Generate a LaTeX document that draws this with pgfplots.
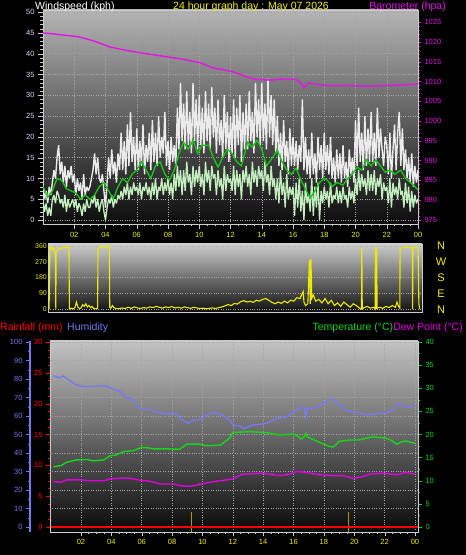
\documentclass[border=0pt]{standalone}
\usepackage{pgfplots}
\pgfplotsset{compat=1.18}
\usepackage{pgfplotstable}
\usepackage{fontspec}
\setmainfont{Liberation Sans}

\definecolor{cGust}{RGB}{235,235,235}
\definecolor{cSpd}{RGB}{195,238,190}
\definecolor{cAvg}{RGB}{20,200,20}
\definecolor{cBaro}{RGB}{230,20,230}
\definecolor{cTtl}{RGB}{240,240,0}
\definecolor{cDir}{RGB}{235,235,0}
\definecolor{cHum}{RGB}{120,120,240}
\definecolor{cRain}{RGB}{255,0,0}
\definecolor{cTemp}{RGB}{20,215,20}
\definecolor{cDew}{RGB}{225,0,225}
\definecolor{cWlbl}{RGB}{210,220,255}
\definecolor{cFrame}{RGB}{205,205,205}
\definecolor{cGrid}{RGB}{165,165,165}
\definecolor{cRbar}{RGB}{175,150,0}
\definecolor{bgTopA}{RGB}{180,180,180}
\definecolor{bgBotA}{RGB}{12,12,12}
\definecolor{bgTopB}{RGB}{205,205,205}
\definecolor{bgBotB}{RGB}{15,15,15}
\definecolor{bgTopC}{RGB}{195,195,195}
\definecolor{bgBotC}{RGB}{8,8,8}

\pgfplotstableread{
h g s
0.0 8 5
0.1 5 2
0.2 7 4
0.3 4 1
0.4 8 3
0.5 6 1
0.6 9 5
0.7 12 6
0.8 10 4
0.9 15 7
1.0 18 6
1.1 11 4
1.2 14 5
1.3 9 3
1.4 13 6
1.5 8 2
1.6 12 5
1.7 10 3
1.8 13 4
1.9 9 5
2.0 11 3
2.1 6 5
2.2 10 2
2.3 7 4
2.4 9 3
2.5 5 1
2.6 11 4
2.7 6 2
2.8 8 5
2.9 7 3
3.0 8 3
3.1 10 5
3.2 12 4
3.3 16 6
3.4 11 3
3.5 15 5
3.6 10 2
3.7 9 4
3.8 11 5
3.9 7 2
4.0 3 0
4.1 9 3
4.2 15 5
4.3 10 4
4.4 17 6
4.5 11 3
4.6 14 5
4.7 9 4
4.8 16 6
4.9 12 5
5.0 21 7
5.1 12 5
5.2 19 8
5.3 11 6
5.4 23 9
5.5 13 5
5.6 26 8
5.7 14 6
5.8 20 9
5.9 12 7
6.0 22 8
6.1 12 6
6.2 19 9
6.3 13 5
6.4 23 8
6.5 11 7
6.6 18 9
6.7 14 6
6.8 21 8
6.9 12 5
7.0 24 9
7.1 14 6
7.2 21 10
7.3 13 5
7.4 25 8
7.5 15 7
7.6 20 10
7.7 16 6
7.8 26 9
7.9 13 7
8.0 19 10
8.1 12 6
8.2 20 9
8.3 14 5
8.4 18 11
8.5 13 7
8.6 27 13
8.7 17 8
8.8 33 12
8.9 19 6
9.0 28 12
9.1 17 7
9.2 31 14
9.3 18 9
9.4 26 11
9.5 16 6
9.6 33 13
9.7 19 8
9.8 29 12
9.9 17 9
10.0 30 13
10.1 18 8
10.2 27 11
10.3 16 6
10.4 31 14
10.5 19 9
10.6 28 12
10.7 17 7
10.8 32 13
10.9 20 10
11.0 27 11
11.1 16 6
11.2 29 12
11.3 18 8
11.4 24 10
11.5 15 5
11.6 30 13
11.7 17 7
11.8 26 11
11.9 14 9
12.0 25 10
12.1 16 7
12.2 29 13
12.3 15 6
12.4 27 12
12.5 18 8
12.6 30 11
12.7 14 5
12.8 26 12
12.9 17 9
13.0 28 13
13.1 17 8
13.2 31 11
13.3 19 6
13.4 26 14
13.5 16 9
13.6 33 12
13.7 20 8
13.8 29 13
13.9 18 10
14.0 33 12
14.1 19 7
14.2 28 14
14.3 17 9
14.4 34 11
14.5 20 6
14.6 30 13
14.7 18 8
14.8 29 10
14.9 16 5
15.0 25 10
15.1 13 4
15.2 21 12
15.3 12 6
15.4 24 9
15.5 14 3
15.6 19 11
15.7 11 5
15.8 22 8
15.9 13 6
16.0 20 8
16.1 13 1
16.2 19 9
16.3 12 3
16.4 18 10
16.5 14 2
16.6 29 7
16.7 12 0
16.8 20 9
16.9 11 4
17.0 17 6
17.1 10 2
17.2 21 10
17.3 11 1
17.4 16 8
17.5 9 3
17.6 20 9
17.7 12 0
17.8 18 7
17.9 10 4
18.0 21 8
18.1 12 5
18.2 18 7
18.3 11 3
18.4 20 9
18.5 10 4
18.6 15 6
18.7 9 5
18.8 17 8
18.9 10 4
19.0 16 7
19.1 9 4
19.2 18 8
19.3 10 5
19.4 14 6
19.5 8 3
19.6 17 8
19.7 11 5
19.8 15 7
19.9 9 4
20.0 24 10
20.1 13 6
20.2 27 12
20.3 14 7
20.4 21 11
20.5 12 8
20.6 25 10
20.7 13 6
20.8 22 12
20.9 14 7
21.0 26 11
21.1 14 7
21.2 21 12
21.3 13 6
21.4 27 10
21.5 15 8
21.6 22 11
21.7 17 5
21.8 13 9
21.9 20 7
22.0 18 8
22.1 11 4
22.2 21 10
22.3 10 3
22.4 17 9
22.5 23 6
22.6 12 8
22.7 21 5
22.8 26 10
22.9 13 6
23.0 22 7
23.1 12 3
23.2 17 9
23.3 10 4
23.4 15 8
23.5 9 2
23.6 16 7
23.7 8 3
23.8 13 6
23.9 9 4
24.0 12 5
}\windtab

\pgfplotsset{
  cstyle/.style={
    scale only axis, anchor=south west,
    tick label style={font=\fontsize{7.5}{8}\selectfont},
    /pgf/number format/assume math mode=true,
    /pgf/number format/1000 sep={},
    axis line style={cFrame, line width=0.8pt},
    tick align=outside,
    major grid style={cGrid, dotted, line width=0.4pt},
  }
}

\begin{document}
\begin{tikzpicture}[x=1pt,y=1pt]
\fill[black] (0,0) rectangle (466,555);

% ---------- top panel: wind ----------
\begin{axis}[cstyle, at={(43pt,331pt)}, width=375pt, height=214pt,
  xmin=0, xmax=24, ymin=-0.96, ymax=50.5,
  axis background/.style={top color=bgTopA, bottom color=bgBotA},
  xtick={2,4,...,24}, xticklabels={02,04,06,08,10,12,14,16,18,20,22,00},
  minor x tick num=3,
  ytick={0,5,...,50}, minor y tick num=4,
  xtick pos=bottom, ytick pos=left,
  major tick length=5pt, minor tick length=2.5pt,
  tick style={cFrame},
  xticklabel style={text=cTtl},
  yticklabel style={text=cWlbl},
  grid=major,
]
\addplot[cGust, line width=1.4pt, line join=bevel] table[x=h, y=g] {\windtab};
\addplot[cSpd, line width=1.3pt, line join=bevel] table[x=h, y=s] {\windtab};
\addplot[cAvg, line width=1.3pt] coordinates {
(0,8)(0.3,5.5)(0.6,7)(0.9,10)(1.2,9.5)(1.5,7.5)(1.8,7)(2.1,6.5)(2.4,5)(2.7,6)(3.0,5)(3.3,6)(3.6,8)(3.9,9)(4.2,7)(4.5,5)(4.8,8)(5.1,10)(5.4,9)(5.7,11)(6.0,12)(6.3,14)(6.6,12)(6.9,10)(7.2,13)(7.5,14)(7.8,11)(8.1,9.6)(8.4,12)(8.7,16)(9.0,18.7)(9.3,17)(9.6,19.2)(9.9,16)(10.2,18)(10.6,18)(10.9,15)(11.2,12.7)(11.5,15)(11.8,17)(12.1,16)(12.4,14)(12.7,13)(13.1,18.7)(13.4,17.5)(13.7,19.2)(14.0,17)(14.3,13)(14.6,14.5)(15.0,16.8)(15.3,14)(15.6,12)(15.9,11)(16.2,12.5)(16.5,9.6)(16.8,7.5)(17.1,5.3)(17.4,7)(17.7,9)(18.0,10)(18.2,9.6)(18.5,8)(18.8,9)(19.2,8.4)(19.5,10)(19.8,11)(20.1,12.7)(20.4,12)(20.7,14.4)(21.0,13)(21.3,14.4)(21.6,13)(21.9,11.5)(22.2,12)(22.5,11)(22.9,12)(23.2,10)(23.5,9)(23.7,8.4)(24.0,7.2)};
\end{axis}

% ---------- top panel: barometer ----------
\begin{axis}[cstyle, at={(43pt,331pt)}, width=375pt, height=214pt,
  xmin=0, xmax=24, ymin=973.9, ymax=1028.1,
  hide x axis, axis y line*=right,
  ytick={975,980,...,1025}, minor y tick num=4,
  major tick length=3pt, minor tick length=1.5pt,
  tick style={cBaro}, yticklabel style={text=cBaro},
]
\addplot[cBaro, line width=1.4pt] coordinates {
(0,1022.3)(1,1021.9)(2.3,1021.3)(3.3,1020.2)(4.3,1018.7)(5.3,1017.9)(6.3,1017.2)(7,1016.8)(8,1016.2)(9,1015.6)(10.1,1014.7)(10.9,1013.4)(11.5,1013.0)(12.2,1012.4)(12.8,1011.5)(13.5,1010.6)(14.2,1010.4)(14.8,1010.4)(15.2,1010.6)(15.6,1010.5)(16,1010.6)(16.3,1010.3)(16.5,1009.6)(16.7,1008.4)(16.85,1009.0)(17,1009.6)(17.5,1009.3)(18.4,1008.9)(19.5,1009.0)(20.5,1008.8)(21.2,1008.8)(22,1009.0)(23,1009.1)(24,1009.4)};
\end{axis}

% ---------- middle panel: wind direction ----------
\begin{axis}[cstyle, at={(48pt,243pt)}, width=374pt, height=68pt,
  xmin=0.38, xmax=24.3, ymin=-17, ymax=371,
  axis background/.style={top color=bgTopB, bottom color=bgBotB},
  xtick=\empty, ytick={0,90,180,270,360}, ytick pos=left,
  major tick length=0pt,
  yticklabel style={text=cDir, font=\fontsize{7}{8}\selectfont, inner sep=1pt},
  ymajorgrids,
]
\addplot[cDir, line width=1.1pt] coordinates {
(0.45,0)(0.5,350)(0.55,345)(0.6,355)(0.65,340)(0.7,350)(0.8,335)(0.85,310)(0.88,0)(0.9,320)(0.95,335)(1.05,340)(1.15,348)(1.25,345)(1.35,352)(1.45,350)(1.55,355)(1.65,352)(1.72,355)(1.75,0)(1.85,5)(2.0,2)(2.1,8)(2.2,40)(2.3,10)(2.4,3)(2.5,6)(2.6,25)(2.7,15)(2.8,30)(2.9,12)(3.0,20)(3.1,8)(3.2,15)(3.3,3)(3.45,2)(3.55,5)(3.58,345)(3.7,355)(3.8,352)(3.9,358)(4.0,355)(4.1,360)(4.2,358)(4.3,360)(4.33,10)(4.4,5)(4.5,20)(4.6,8)(4.7,3)(4.9,2)(5.1,6)(5.3,3)(5.5,10)(5.7,4)(5.9,12)(6.1,6)(6.3,3)(6.5,8)(6.7,5)(6.9,12)(7.1,8)(7.3,15)(7.5,10)(7.7,5)(7.9,12)(8.1,8)(8.3,14)(8.5,6)(8.7,10)(8.9,5)(9.1,12)(9.3,8)(9.5,4)(9.7,10)(9.9,6)(10.1,3)(10.3,5)(10.5,2)(10.7,4)(10.9,6)(11.1,3)(11.3,8)(11.5,12)(11.7,18)(11.9,25)(12.1,20)(12.3,32)(12.5,28)(12.7,42)(12.9,48)(13.1,40)(13.3,44)(13.5,38)(13.7,50)(13.9,45)(14.1,55)(14.3,60)(14.5,50)(14.7,38)(14.9,30)(15.1,40)(15.3,32)(15.5,45)(15.7,35)(15.9,50)(16.1,45)(16.3,65)(16.5,60)(16.6,80)(16.7,100)(16.75,40)(16.85,20)(17.0,30)(17.1,280)(17.15,30)(17.2,285)(17.25,60)(17.35,80)(17.5,45)(17.7,55)(17.9,35)(18.1,60)(18.3,30)(18.5,50)(18.7,20)(18.9,35)(19.1,15)(19.3,40)(19.5,25)(19.7,10)(19.9,30)(20.1,20)(20.3,5)(20.43,0)(20.45,350)(20.48,0)(20.6,8)(20.8,15)(21.0,5)(21.2,10)(21.3,0)(21.32,350)(21.36,0)(21.4,355)(21.43,5)(21.6,10)(21.8,4)(22.0,15)(22.2,8)(22.4,20)(22.6,10)(22.7,40)(22.8,15)(22.88,5)(22.9,345)(23.1,350)(23.3,355)(23.5,350)(23.68,352)(23.7,0)(23.72,350)(23.9,355)(24.05,350)(24.1,30)(24.15,0)};
\end{axis}

% ---------- bottom panel: rain (frame, grid, x axis) ----------
\begin{axis}[cstyle, at={(50pt,23pt)}, width=368pt, height=191pt,
  xmin=-0.04, xmax=24.2, ymin=-0.81, ymax=30.16,
  axis background/.style={top color=bgTopC, bottom color=bgBotC},
  xtick={2,4,...,24}, xticklabels={02,04,06,08,10,12,14,16,18,20,22,00},
  minor x tick num=3,
  ytick={0,5,...,30}, minor y tick num=3,
  xtick pos=bottom, ytick pos=left,
  major tick length=4pt, minor tick length=2pt,
  xtick style={cFrame}, ytick style={cRain},
  xticklabel style={text=cTtl}, yticklabel style={text=cRain},
  xmajorgrids,
  extra y ticks={3,6,...,30}, extra y tick labels={},
  extra y tick style={ymajorgrids=true, major tick length=0pt},
]
\addplot[cRbar, line width=1.3pt] coordinates {(9.29,-0.81)(9.29,2.5)};
\addplot[cRbar, line width=1.3pt] coordinates {(19.64,-0.81)(19.64,2.5)};
\addplot[cRain, line width=1.8pt] coordinates {(0,0)(24.2,0)};
\end{axis}

% ---------- bottom panel: humidity data ----------
\begin{axis}[cstyle, at={(50pt,23pt)}, width=368pt, height=191pt,
  xmin=-0.04, xmax=24.2, ymin=-2.7, ymax=100.5, hide axis]
\addplot[cHum, line width=1.4pt] coordinates {
(0.18,81.8)(0.4,81)(0.6,80.7)(0.84,81.6)(1.0,80.5)(1.27,79.1)(1.5,77.8)(1.7,76.8)(2.15,75.9)(2.8,75.9)(3.3,76.2)(3.7,76.2)(4.1,74.4)(4.6,73.2)(4.9,70.1)(5.3,69.6)(5.6,66.5)(5.9,63.6)(6.5,63.6)(6.9,62.3)(7.6,61.1)(8.3,61.1)(8.6,58.2)(9.07,56.0)(9.4,57.8)(9.8,57.8)(10.3,60.5)(10.7,61.8)(11.0,61.5)(11.3,60.5)(11.8,57.8)(12.0,55.1)(12.5,54.6)(12.7,53)(13.0,54)(13.3,55.1)(13.8,55.5)(14.2,56)(14.6,57.5)(14.9,58.7)(15.6,59.6)(16.0,62)(16.4,64.2)(16.7,65)(16.8,59.6)(16.9,64)(17.3,64.2)(17.8,66)(18.1,67.5)(18.4,69)(18.6,69)(19.0,66)(19.5,62.7)(20.3,61.8)(20.8,60.5)(21.2,61.1)(21.9,61.4)(22.5,62.7)(22.9,66.4)(23.1,66.4)(23.4,64.6)(24.0,65.5)};
\end{axis}

% ---------- bottom panel: temperature / dew point ----------
\begin{axis}[cstyle, at={(50pt,23pt)}, width=368pt, height=191pt,
  xmin=-0.04, xmax=24.2, ymin=-1.08, ymax=40.2,
  hide x axis, axis y line*=right,
  ytick={0,5,...,40}, minor y tick num=1,
  major tick length=4pt, minor tick length=2pt,
  tick style={cTemp}, yticklabel style={text=cTemp},
]
\addplot[cTemp, line width=1.4pt] coordinates {
(0.18,13.0)(0.7,13.3)(1.06,14.0)(1.7,14.5)(2.4,14.6)(2.8,14.3)(3.5,14.5)(3.9,15.35)(4.35,15.6)(4.8,16.3)(5.45,16.5)(6.0,17.2)(6.4,17.1)(6.8,16.9)(7.6,16.9)(8.5,16.8)(8.8,17.5)(8.96,17.9)(9.8,17.9)(10.2,17.6)(10.5,17.6)(11.2,17.7)(11.5,18.5)(11.8,19.2)(12.0,20.4)(13.1,20.6)(14.2,20.4)(15.1,19.9)(16.0,20.1)(16.3,19.6)(16.5,19.0)(16.7,19.5)(16.8,20.3)(16.9,19.5)(17.1,19.2)(17.7,18.3)(18.4,17.4)(18.6,17.3)(18.8,17.8)(19.0,18.5)(19.7,18.8)(20.3,18.8)(21.2,19.5)(22.1,19.2)(22.5,18.6)(22.8,17.9)(23.1,18.4)(23.4,18.6)(24.0,18.1)};
\addplot[cDew, line width=1.4pt] coordinates {
(0.18,9.8)(0.7,9.7)(1.06,10.2)(1.9,10.2)(2.6,10.0)(3.5,10.0)(3.9,10.4)(5.0,10.6)(5.45,10.4)(6.0,10.0)(6.3,10.0)(6.8,9.7)(7.2,9.3)(8.1,9.3)(8.6,8.9)(9.2,8.8)(9.8,9.2)(10.7,9.8)(11.4,10.1)(12.0,10.4)(12.6,11.4)(13.3,11.5)(13.9,11.6)(14.3,11.5)(15.1,11.1)(15.7,11.4)(16.2,12.0)(16.8,11.8)(17.5,11.4)(18.6,11.1)(19.3,11.1)(19.9,10.5)(20.6,10.9)(21.1,11.5)(21.9,11.6)(22.8,11.3)(23.4,11.8)(24.0,11.4)};
\end{axis}

% ---------- humidity scale (offset left) ----------
\begin{axis}[cstyle, at={(30pt,23pt)}, width=1pt, height=191pt,
  xmin=0, xmax=1, ymin=-2.7, ymax=100.5,
  hide x axis, axis y line*=left,
  ytick={0,10,...,100}, minor y tick num=1,
  major tick length=4pt, minor tick length=2pt,
  tick style={cHum}, yticklabel style={text=cHum},
  y axis line style={cHum, line width=2pt},
]
\end{axis}

% ---------- titles ----------
\begin{scope}[every node/.style={inner sep=0pt, font=\fontsize{10.5}{12}\selectfont}]
\node[anchor=base west, text=white] at (35,545.7) {Windspeed (kph)};
\node[anchor=base, text=cTtl] at (251,545.7) {24 hour graph day : May 07 2026};
\node[anchor=base east, text=cBaro] at (446,545.7) {Barometer (hpa)};
\node[anchor=base west, text=cRain] at (0,224.3) {Rainfall (mm)};
\node[anchor=base west, text=cHum] at (67,224.3) {Humidity};
\node[anchor=base east] at (463,224.3) {\textcolor{cTemp}{Temperature (°C)}\textcolor{cDew}{Dew Point (°C)}};
\node[anchor=center, text=cTtl, font=\fontsize{11}{12}\selectfont] at (441,309) {N};
\node[anchor=center, text=cTtl, font=\fontsize{11}{12}\selectfont] at (441,293) {W};
\node[anchor=center, text=cTtl, font=\fontsize{11}{12}\selectfont] at (441,277) {S};
\node[anchor=center, text=cTtl, font=\fontsize{11}{12}\selectfont] at (441,261) {E};
\node[anchor=center, text=cTtl, font=\fontsize{11}{12}\selectfont] at (441,245) {N};
\end{scope}
\end{tikzpicture}
\end{document}
